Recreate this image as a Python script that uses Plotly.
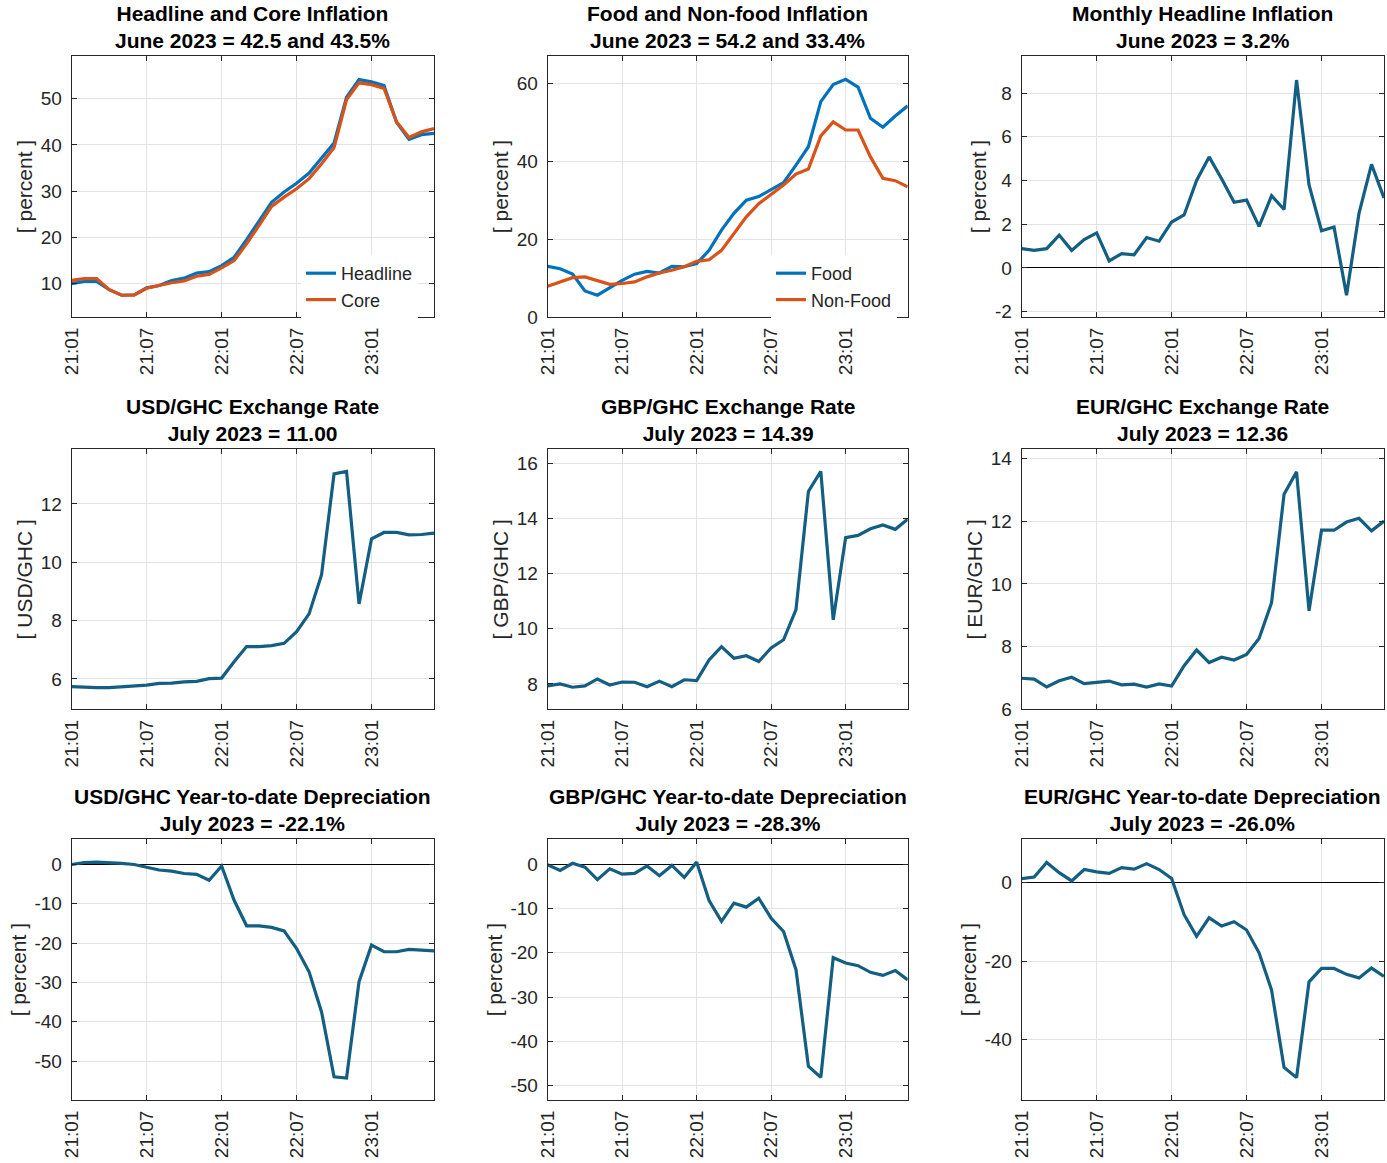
"""Ghana inflation and exchange-rate dashboard, 3x3 grid."""

import plotly.graph_objects as go

# ---------------------------------------------------------------------------
# Data
# ---------------------------------------------------------------------------

MONTHS = [f"{y:02d}:{m:02d}" for y in (21, 22, 23) for m in range(1, 13)][:30]
TICK_LABELS = ["21:01", "21:07", "22:01", "22:07", "23:01"]

headline = [10.0, 10.5, 10.5, 8.7, 7.5, 7.6, 9.1, 9.6, 10.7, 11.2, 12.3, 12.6, 13.9, 15.7, 19.5,
            23.6, 27.6, 29.8, 31.7, 33.9, 37.2, 40.4, 50.3, 54.1, 53.6, 52.8, 44.9, 41.2, 42.2, 42.5]
core = [10.7, 11.1, 11.1, 8.7, 7.5, 7.5, 9.0, 9.6, 10.2, 10.6, 11.6, 12.0, 13.4, 15.0, 18.6,
        22.6, 26.7, 28.7, 30.5, 32.7, 35.9, 39.4, 49.8, 53.4, 53.0, 52.2, 45.0, 41.6, 42.8, 43.5]

food = [13.0, 12.4, 11.0, 6.7, 5.6, 7.6, 9.4, 11.0, 11.7, 11.3, 13.0, 12.9, 13.7, 17.1, 22.3,
        26.6, 30.0, 30.9, 32.6, 34.5, 39.0, 43.7, 55.3, 59.7, 61.0, 59.0, 51.0, 48.7, 51.6, 54.2]
non_food = [7.9, 9.0, 10.1, 10.3, 9.4, 8.4, 8.6, 9.0, 10.3, 11.3, 12.0, 12.9, 14.3, 14.7, 17.1,
            21.4, 25.7, 29.1, 31.4, 33.9, 36.7, 38.0, 46.5, 50.1, 48.0, 48.0, 41.1, 35.6, 35.0, 33.4]

monthly = [0.88, 0.8, 0.88, 1.5, 0.8, 1.3, 1.6, 0.32, 0.65, 0.6, 1.39, 1.22, 2.1, 2.42, 4.0,
           5.08, 4.08, 3.0, 3.1, 1.9, 3.3, 2.67, 8.6, 3.8, 1.7, 1.87, -1.25, 2.5, 4.74, 3.2]

usd = [5.74, 5.71, 5.70, 5.70, 5.73, 5.75, 5.79, 5.85, 5.86, 5.90, 5.92, 6.01, 6.03, 6.59, 7.11,
       7.11, 7.14, 7.22, 7.62, 8.23, 9.57, 13.03, 13.11, 8.57, 10.8, 11.02, 11.02, 10.94, 10.95, 11.0]
gbp = [7.93, 8.0, 7.88, 7.93, 8.18, 7.96, 8.07, 8.06, 7.9, 8.1, 7.9, 8.15, 8.12, 8.87, 9.35,
       8.93, 9.02, 8.81, 9.3, 9.6, 10.69, 14.97, 15.7, 10.32, 13.3, 13.38, 13.62, 13.76, 13.6, 13.97]
eur = [6.99, 6.96, 6.71, 6.91, 7.02, 6.82, 6.86, 6.9, 6.78, 6.8, 6.71, 6.81, 6.74, 7.39, 7.89,
       7.49, 7.66, 7.57, 7.75, 8.26, 9.4, 12.86, 13.57, 9.14, 11.71, 11.71, 11.97, 12.09, 11.69, 12.0]

usd_ytd = [0.0, 0.5, 0.6, 0.5, 0.3, 0.0, -0.6, -1.4, -1.7, -2.3, -2.5, -4.0, -0.4, -9.1, -15.6,
           -15.6, -16.0, -16.9, -21.4, -27.3, -37.5, -54.0, -54.3, -29.8, -20.5, -22.2, -22.2,
           -21.6, -21.8, -22.0]
gbp_ytd = [-0.15, -1.4, 0.2, -0.7, -3.5, -1.05, -2.25, -2.1, -0.4, -2.6, -0.3, -3.0, 0.45, -8.2,
           -12.9, -8.8, -9.7, -7.7, -12.2, -15.2, -23.8, -45.6, -48.1, -21.1, -22.3, -22.9, -24.4,
           -25.1, -24.0, -26.1]
eur_ytd = [1.0, 1.4, 5.1, 2.5, 0.4, 3.3, 2.7, 2.3, 3.8, 3.4, 4.8, 3.3, 1.0, -8.2, -13.7, -9.0,
           -11.1, -10.0, -12.1, -17.9, -27.4, -47.1, -49.7, -25.3, -21.9, -21.9, -23.4, -24.3,
           -21.8, -23.9]

# ---------------------------------------------------------------------------
# Styling
# ---------------------------------------------------------------------------

W, H = 1387, 1163
FONT = "Liberation Sans, Arial, Helvetica, sans-serif"
AX_COLOR = "#262626"
GRID = "#e3e3e3"
BLUE = "#0072BD"
ORANGE = "#D95319"
TEAL = "#135E83"

COLS_PX = [(71.7, 434.0), (547.7, 907.7), (1021.7, 1384.0)]
ROWS_PX = [(56.0, 317.0), (449.3, 709.3), (839.3, 1100.0)]

PANELS = [
    dict(title="Headline and Core Inflation", sub="June 2023 = 42.5 and 43.5%",
         ylabel="[ percent ]", series=[("Headline", headline, BLUE), ("Core", core, ORANGE)],
         yrange=[2.8, 59.2], ticks=[10, 20, 30, 40, 50], legend="legend"),
    dict(title="Food and Non-food Inflation", sub="June 2023 = 54.2 and 33.4%",
         ylabel="[ percent ]", series=[("Food", food, BLUE), ("Non-Food", non_food, ORANGE)],
         yrange=[0, 67], ticks=[0, 20, 40, 60], legend="legend2"),
    dict(title="Monthly Headline Inflation", sub="June 2023 = 3.2%",
         ylabel="[ percent ]", series=[("Monthly", monthly, TEAL)],
         yrange=[-2.25, 9.7], ticks=[-2, 0, 2, 4, 6, 8]),
    dict(title="USD/GHC Exchange Rate", sub="July 2023 = 11.00",
         ylabel="[ USD/GHC ]", series=[("USD", usd, TEAL)],
         yrange=[4.96, 13.87], ticks=[6, 8, 10, 12]),
    dict(title="GBP/GHC Exchange Rate", sub="July 2023 = 14.39",
         ylabel="[ GBP/GHC ]", series=[("GBP", gbp, TEAL)],
         yrange=[7.08, 16.5], ticks=[8, 10, 12, 14, 16]),
    dict(title="EUR/GHC Exchange Rate", sub="July 2023 = 12.36",
         ylabel="[ EUR/GHC ]", series=[("EUR", eur, TEAL)],
         yrange=[6, 14.29], ticks=[6, 8, 10, 12, 14]),
    dict(title="USD/GHC Year-to-date Depreciation", sub="July 2023 = -22.1%",
         ylabel="[ percent ]", series=[("USD ytd", usd_ytd, TEAL)],
         yrange=[-59.9, 6.4], ticks=[-50, -40, -30, -20, -10, 0]),
    dict(title="GBP/GHC Year-to-date Depreciation", sub="July 2023 = -28.3%",
         ylabel="[ percent ]", series=[("GBP ytd", gbp_ytd, TEAL)],
         yrange=[-53.2, 5.6], ticks=[-50, -40, -30, -20, -10, 0]),
    dict(title="EUR/GHC Year-to-date Depreciation", sub="July 2023 = -26.0%",
         ylabel="[ percent ]", series=[("EUR ytd", eur_ytd, TEAL)],
         yrange=[-55.4, 11], ticks=[-40, -20, 0]),
]

fig = go.Figure()
layout = dict(
    width=W,
    height=H,
    margin=dict(l=0, r=0, t=0, b=0, autoexpand=False),
    paper_bgcolor="white",
    plot_bgcolor="white",
    font=dict(family=FONT, size=19, color=AX_COLOR),
    annotations=[],
)

for i, p in enumerate(PANELS):
    r, c = divmod(i, 3)
    n = "" if i == 0 else str(i + 1)
    x0, x1 = COLS_PX[c]
    y0, y1 = ROWS_PX[r]
    xdom = [x0 / W, x1 / W]
    ydom = [1 - y1 / H, 1 - y0 / H]

    for name, vals, color in p["series"]:
        fig.add_trace(
            go.Scatter(
                x=MONTHS,
                y=vals,
                name=name,
                mode="lines",
                line=dict(color=color, width=3.2),
                xaxis="x" + n,
                yaxis="y" + n,
                showlegend="legend" in p,
                legend=p.get("legend", "legend"),
            )
        )

    axis_common = dict(
        automargin=False,
        showline=True,
        linecolor=AX_COLOR,
        linewidth=1,
        mirror="ticks",
        ticks="inside",
        ticklen=5,
        tickcolor=AX_COLOR,
        showgrid=True,
        gridcolor=GRID,
        gridwidth=1,
        tickfont=dict(family=FONT, size=19, color=AX_COLOR),
    )
    layout["xaxis" + n] = dict(
        axis_common,
        domain=xdom,
        anchor="y" + n,
        type="category",
        range=[0, len(MONTHS) - 1],
        tickmode="array",
        tickvals=TICK_LABELS,
        ticktext=TICK_LABELS,
        tickangle=-90,
        ticklabelstandoff=2,
        zeroline=False,
    )
    layout["yaxis" + n] = dict(
        axis_common,
        domain=ydom,
        anchor="x" + n,
        range=p["yrange"],
        tickmode="array",
        tickvals=p["ticks"],
        ticktext=[str(t) for t in p["ticks"]],
        ticklabelstandoff=5,
        zeroline=True,
        zerolinecolor="#000000",
        zerolinewidth=1,
        title=dict(text=p["ylabel"], font=dict(family=FONT, size=21, color=AX_COLOR), standoff=2),
    )
    layout["annotations"].append(
        dict(
            text=f"<b>{p['title']}</b><br><b>{p['sub']}</b>",
            x=(xdom[0] + xdom[1]) / 2,
            y=ydom[1],
            xref="paper",
            yref="paper",
            xanchor="center",
            yanchor="bottom",
            yshift=2,
            showarrow=False,
            font=dict(family=FONT, size=21, color="#000000"),
        )
    )

legend_style = dict(
    bgcolor="white",
    borderwidth=0,
    font=dict(family=FONT, size=18, color=AX_COLOR),
    xanchor="left",
    yanchor="top",
    tracegroupgap=0,
)
layout["legend"] = dict(legend_style, x=301 / W, y=1 - 255 / H)
layout["legend2"] = dict(legend_style, x=771 / W, y=1 - 255 / H)

fig.update_layout(**layout)
# drop the browser's default 8px body margin so the figure fills the window exactly
fig.write_html(
    "out.html",
    config={"displayModeBar": False},
    post_script="document.body.style.margin = '0px';",
)
